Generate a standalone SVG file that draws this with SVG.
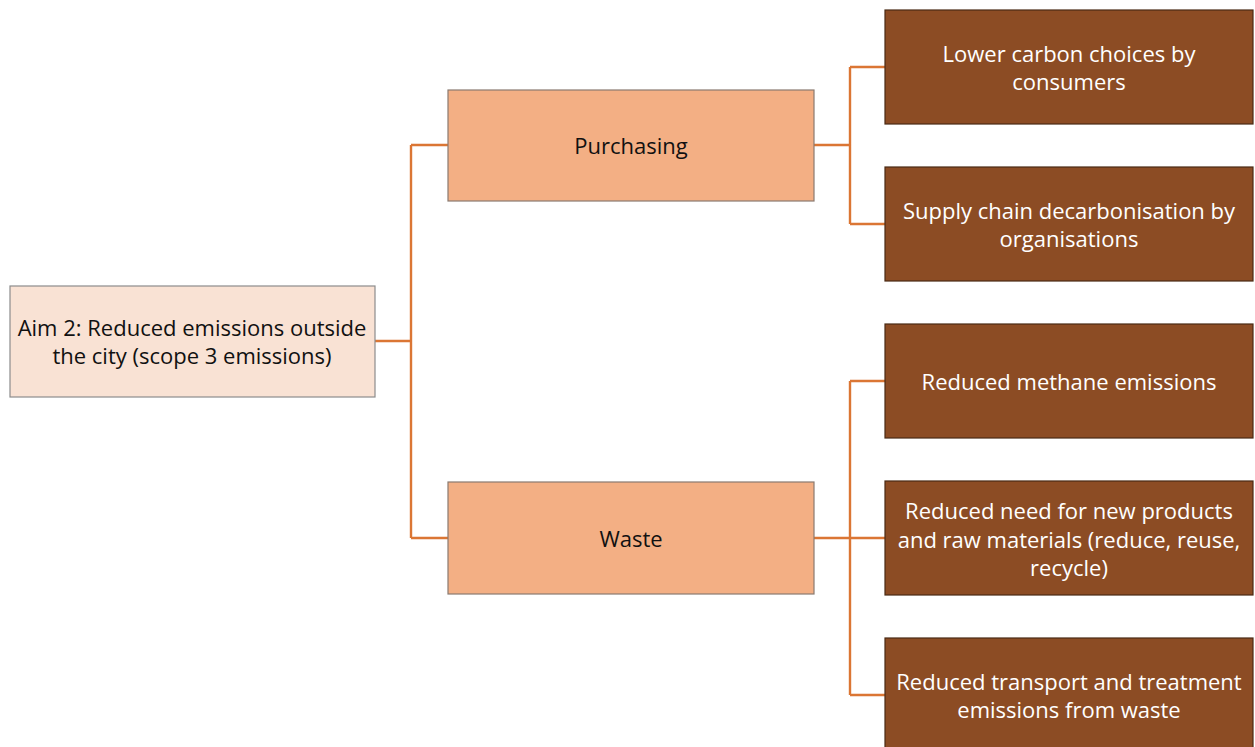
<svg xmlns="http://www.w3.org/2000/svg" width="1255" height="747" viewBox="0 0 1255 747">
<style>
.root{fill:#F9E2D4;stroke:#8c8c8c;stroke-width:1.2}
.mid{fill:#F3AF84;stroke:#8a7a70;stroke-width:1.2}
.leaf{fill:#8C4C24;stroke:#4a2a14;stroke-width:1.2}
.dk{font-family:"Open Sans",Lato,sans-serif;font-size:22px;fill:#111;text-anchor:middle;dominant-baseline:central}
.lt{font-family:"Open Sans",Lato,sans-serif;font-size:22px;fill:#fff;text-anchor:middle;dominant-baseline:central}
.con{fill:none;stroke:#DB7634;stroke-width:2.4}
</style>
<rect width="1255" height="747" fill="#fff"/>
<g id="connectors">
<path class="con" d="M375,341H411M411,145V538M411,145H448M411,538H448"/>
<path class="con" d="M814,145H850M850,67V224M850,67H885M850,224H885"/>
<path class="con" d="M814,538H850M850,381V695M850,381H885M850,538H885M850,695H885"/>
</g>
<g id="root">
<rect class="root" x="10" y="286" width="365" height="111"/>
<text class="dk" x="192" y="327">Aim 2: Reduced emissions outside</text>
<text class="dk" x="192" y="355">the city (scope 3 emissions)</text>
</g>
<g id="purchasing">
<rect class="mid" x="448" y="90" width="366" height="111"/>
<text class="dk" x="631" y="145">Purchasing</text>
</g>
<g id="waste">
<rect class="mid" x="448" y="482" width="366" height="112"/>
<text class="dk" x="631" y="538">Waste</text>
</g>
<g id="lower-carbon">
<rect class="leaf" x="885" y="10" width="368" height="114"/>
<text class="lt" x="1069" y="53">Lower carbon choices by</text>
<text class="lt" x="1069" y="81">consumers</text>
</g>
<g id="supply-chain">
<rect class="leaf" x="885" y="167" width="368" height="114"/>
<text class="lt" x="1069" y="210">Supply chain decarbonisation by</text>
<text class="lt" x="1069" y="238">organisations</text>
</g>
<g id="methane">
<rect class="leaf" x="885" y="324" width="368" height="114"/>
<text class="lt" x="1069" y="381">Reduced methane emissions</text>
</g>
<g id="reduced-need">
<rect class="leaf" x="885" y="481" width="368" height="114"/>
<text class="lt" x="1069" y="510">Reduced need for new products</text>
<text class="lt" x="1069" y="539">and raw materials (reduce, reuse,</text>
<text class="lt" x="1069" y="567">recycle)</text>
</g>
<g id="transport">
<rect class="leaf" x="885" y="638" width="368" height="114"/>
<text class="lt" x="1069" y="681">Reduced transport and treatment</text>
<text class="lt" x="1069" y="709">emissions from waste</text>
</g>
</svg>
